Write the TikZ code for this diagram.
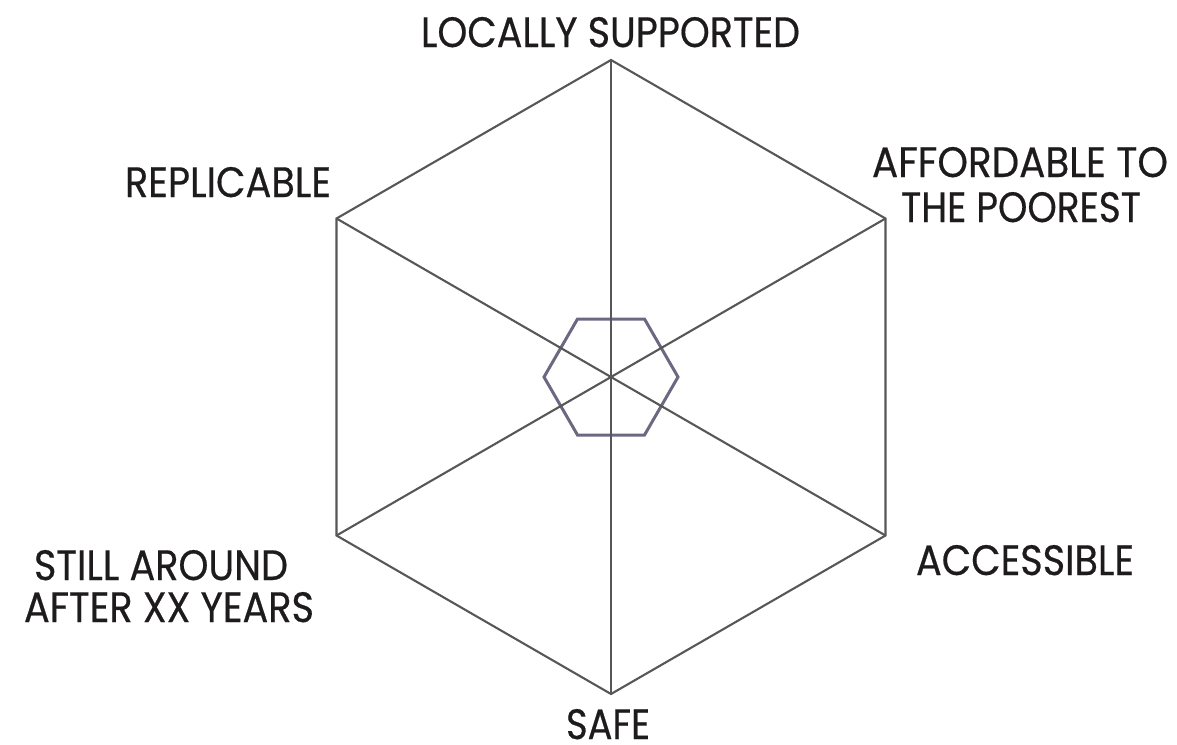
\documentclass[tikz,border=0pt]{standalone}
\usepackage{fontspec}
\setmainfont{Poppins}
\newfontfamily\lblfont[FakeBold=0.5]{Poppins}
\definecolor{hexline}{HTML}{575757}
\definecolor{innerhex}{HTML}{6E6782}
\definecolor{labeltext}{HTML}{1E1B1C}
\newcommand{\lbltxt}[2]{\resizebox{#1pt}{30pt}{#2}}
\begin{document}
\begin{tikzpicture}[x=1pt,y=-1pt,
  outerline/.style={draw=hexline,line width=2.1pt,line join=miter},
  spoke/.style={draw=hexline,line width=2.1pt},
  innerline/.style={draw=innerhex,line width=3pt,line join=miter},
  lbl/.style={inner sep=0pt,anchor=base,text=labeltext,font=\lblfont\fontsize{43}{50}\selectfont}]
\useasboundingbox (0,0) rectangle (1177,744);
\coordinate (C) at (611,377);
\coordinate (T) at (611,60);
\coordinate (UR) at (885.5,218.5);
\coordinate (LR) at (885.5,535.5);
\coordinate (B) at (611,694);
\coordinate (LL) at (336.5,535.5);
\coordinate (UL) at (336.5,218.5);
\coordinate (i1) at (678,377);
\coordinate (i2) at (644.5,319);
\coordinate (i3) at (577.5,319);
\coordinate (i4) at (544,377);
\coordinate (i5) at (577.5,435);
\coordinate (i6) at (644.5,435);
\draw[innerline] (i1) -- (i2) -- (i3) -- (i4) -- (i5) -- (i6) -- cycle;
\draw[spoke] (T) -- (B);
\draw[spoke] (UL) -- (LR);
\draw[spoke] (UR) -- (LL);
\draw[outerline] (T) -- (UR) -- (LR) -- (B) -- (LL) -- (UL) -- cycle;
\node[lbl] (top) at (610.5,47) {\lbltxt{379}{LOCALLY SUPPORTED}};
\node[lbl] (repl) at (228,197) {\lbltxt{206}{REPLICABLE}};
\node[lbl] (aff1) at (1020,177) {\lbltxt{296}{AFFORDABLE TO}};
\node[lbl] (aff2) at (1021,222) {\lbltxt{240}{THE POOREST}};
\node[lbl] (acc) at (1025,575) {\lbltxt{218}{ACCESSIBLE}};
\node[lbl] (still1) at (161,580) {\lbltxt{254}{STILL AROUND}};
\node[lbl] (still2) at (169,622) {\lbltxt{290}{AFTER XX YEARS}};
\node[lbl] (safe) at (608,739) {\lbltxt{84}{SAFE}};
\end{tikzpicture}
\end{document}
